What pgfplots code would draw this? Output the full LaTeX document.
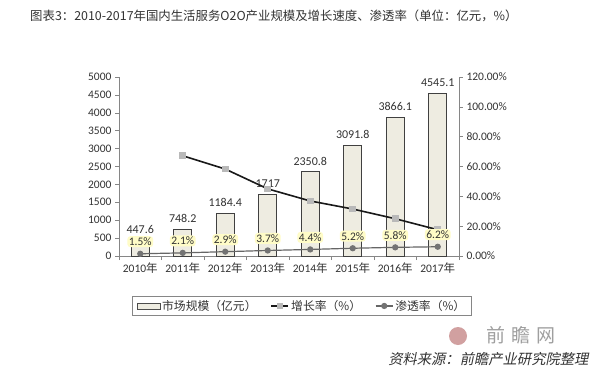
\documentclass[border=0pt]{standalone}
\usepackage{pgfplots}
\pgfplotsset{compat=1.18}
\usepackage{fontspec}
\setmainfont{Carlito}
\newfontfamily\cjk{Noto Sans CJK SC}
\newfontfamily\cjkit{Noto Sans CJK SC}[FakeSlant=0.2]
\definecolor{barfill}{HTML}{EEECE1}
\definecolor{axgray}{HTML}{868686}
\definecolor{txt}{HTML}{333333}
\begin{document}
\begin{tikzpicture}
\path[fill=white] (0pt,0pt) rectangle (600pt,-375pt);
\node[anchor=west, font=\cjk\fontsize{12.4}{14}\selectfont, text=txt, inner sep=0] at (30pt,-16pt) {图表3：2010-2017年国内生活服务O2O产业规模及增长速度、渗透率（单位：亿元，\%）};
\begin{axis}[
  at={(119pt,-256pt)}, anchor=south west, scale only axis,
  width=340pt, height=179pt,
  xmin=-0.5, xmax=7.5, ymin=0, ymax=5000,
  axis y line*=left, axis x line*=bottom,
  axis line style={draw=axgray, line width=0.8pt},
  ytick={0,500,...,5000},
  xtick={0,...,7},
  xticklabels={2010{\cjk 年},2011{\cjk 年},2012{\cjk 年},2013{\cjk 年},2014{\cjk 年},2015{\cjk 年},2016{\cjk 年},2017{\cjk 年}},
  minor xtick={-0.5,0.5,...,7.5},
  major x tick style={draw=none},
  minor tick length=4pt, major tick length=4pt,
  tick style={draw=axgray, line width=0.6pt},
  tick align=outside,
  /pgf/number format/1000 sep={},
  /pgf/number format/assume math mode=true,
  tick label style={font=\fontsize{11.5}{13}\selectfont, text=txt},
  xticklabel style={yshift=1pt},
  clip=false,
]
\addplot[ybar, bar width=18pt, fill=barfill, draw=black!75, line width=0.8pt,
  nodes near coords, point meta=explicit symbolic,
  every node near coord/.style={font=\fontsize{12}{14}\selectfont, text=txt, yshift=3pt}]
  coordinates {(0,447.6)[447.6] (1,748.2)[748.2] (2,1184.4)[1184.4] (3,1717)[1717] (4,2350.8)[2350.8] (5,3091.8)[3091.8] (6,3866.1)[3866.1] (7,4545.1)[4545.1]};
\end{axis}
\begin{axis}[
  at={(119pt,-256pt)}, anchor=south west, scale only axis,
  width=340pt, height=179pt,
  xmin=-0.5, xmax=7.5, ymin=0, ymax=120,
  axis y line*=right, axis x line=none,
  axis line style={draw=axgray, line width=0.8pt},
  ytick={0,20,...,120},
  yticklabel={\pgfmathprintnumber[fixed,fixed zerofill,precision=2]{\tick}\%},
  major tick length=4pt,
  tick style={draw=axgray, line width=0.6pt},
  tick align=outside,
  /pgf/number format/assume math mode=true,
  tick label style={font=\fontsize{11.5}{13}\selectfont, text=txt},
  clip=false,
  legend columns=3,
  legend style={at={(0.538,-0.279)}, anchor=center, draw=axgray, line width=0.6pt,
    font=\cjk\fontsize{11.8}{13}\selectfont, text=txt,
    /tikz/every even column/.append style={column sep=12pt}, inner xsep=4pt, inner ysep=2pt},
]
\addlegendimage{legend image code/.code={\draw[fill=barfill,draw=black!70,line width=0.6pt] (0pt,-3pt) rectangle (23pt,3pt);}}
\addlegendentry{市场规模（亿元）}
\addplot[black!90, line width=1.6pt, mark=square*, mark size=2.5pt, mark options={fill=gray!55, draw=gray!55}]
  coordinates {(1,67.2) (2,58.3) (3,45.0) (4,36.9) (5,31.5) (6,25.0) (7,17.6)};
\addlegendentry{增长率（\%）}
\addplot[black!60, line width=1.2pt, mark=*, mark size=2.5pt, mark options={fill=black!55, draw=black!55},
  nodes near coords, point meta=explicit symbolic,
  every node near coord/.style={font=\fontsize{11.5}{13}\selectfont, text=txt, fill=yellow!22, rounded corners=3pt, inner sep=1.5pt, yshift=6pt}]
  coordinates {(0,1.5)[1.5\%] (1,2.1)[2.1\%] (2,2.9)[2.9\%] (3,3.7)[3.7\%] (4,4.4)[4.4\%] (5,5.2)[5.2\%] (6,5.8)[5.8\%] (7,6.2)[6.2\%]};
\addlegendentry{渗透率（\%）}
\end{axis}
\fill[red!35!gray!55] (458pt,-336pt) circle (9pt);
\node[font=\cjk\fontsize{19}{21}\selectfont, text=gray!75, anchor=west] at (483pt,-335pt) {前\hspace{6pt}瞻\hspace{6pt}网};
\node[font=\cjkit\fontsize{14.3}{16}\selectfont, text=txt, anchor=east] at (592pt,-359pt) {资料来源：前瞻产业研究院整理};
\end{tikzpicture}
\end{document}
